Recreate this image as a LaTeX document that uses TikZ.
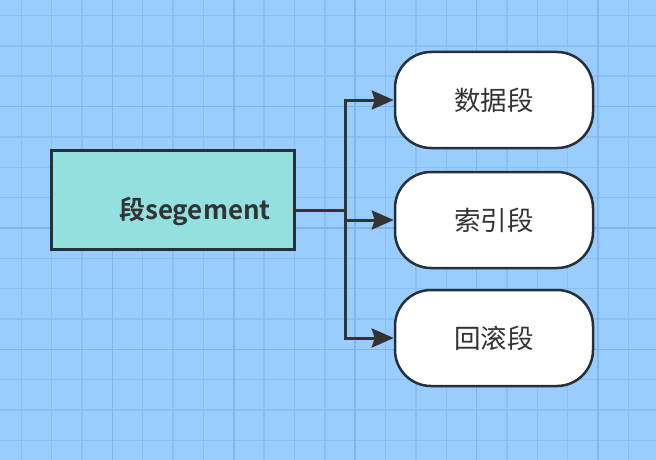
\documentclass[tikz,border=0pt]{standalone}
\usepackage{fontspec}
\setmainfont{Noto Sans CJK SC}
\newfontfamily\cjkbold{Noto Sans CJK SC}[BoldFont={* Bold}]
\usetikzlibrary{arrows.meta,calc}
\definecolor{bgblue}{RGB}{153,204,255}
\definecolor{gridminor}{RGB}{139,191,244}
\definecolor{gridmajor}{RGB}{128,180,235}
\definecolor{edgedark}{RGB}{38,48,56}
\definecolor{tealfill}{RGB}{148,224,224}
\definecolor{txt}{RGB}{51,51,51}
\begin{document}
\begin{tikzpicture}[x=1pt,y=-1pt,
  mainbox/.style={draw=edgedark,line width=2.7pt,fill=tealfill,minimum width=243pt,minimum height=99pt,inner sep=0pt},
  pillbox/.style={draw=edgedark,line width=2.5pt,fill=white,rounded corners=36pt,minimum width=198pt,minimum height=96pt,inner sep=0pt,font=\fontsize{26.5}{30}\selectfont,text=txt},
  conn/.style={draw=txt,line width=3pt},
  arr/.style={conn,-{Stealth[length=22pt,width=19pt,inset=3pt]}}
]
\useasboundingbox (0,0) rectangle (656,460);
\fill[bgblue] (0,0) rectangle (656,460);
% grid
\foreach \i in {0,...,20}{
  \pgfmathsetmacro\xx{21.3+30.35*\i}
  \draw[gridminor,line width=1.4pt] (\xx,0) -- (\xx,460);
}
\foreach \i in {0,...,14}{
  \pgfmathsetmacro\yy{15.5+30.35*\i}
  \draw[gridminor,line width=1.4pt] (0,\yy) -- (656,\yy);
}
\foreach \i in {3,7,11,15,19}{
  \pgfmathsetmacro\xx{21.3+30.35*\i}
  \draw[gridmajor,line width=1.7pt] (\xx,0) -- (\xx,460);
}
\foreach \i in {3,7,11}{
  \pgfmathsetmacro\yy{15.5+30.35*\i}
  \draw[gridmajor,line width=1.7pt] (0,\yy) -- (656,\yy);
}
% nodes
\node[mainbox,label={[xshift=22pt,yshift=-11pt,text=txt,font=\cjkbold\bfseries\fontsize{26}{30}\selectfont]center:段segement}] (main) at (173,200) {};
\node[pillbox] (b1) at (494,100) {数据段};
\node[pillbox] (b2) at (494,220) {索引段};
\node[pillbox] (b3) at (494,338) {回滚段};
% connectors
\coordinate (j) at ($(main.east)+(50,10)$);
\draw[conn] ($(main.east)+(0,10)$) -- (j);
\draw[arr] (j) |- (b1.west);
\draw[arr] (j) |- (b2.west);
\draw[arr] (j) |- (b3.west);
\end{tikzpicture}
\end{document}
